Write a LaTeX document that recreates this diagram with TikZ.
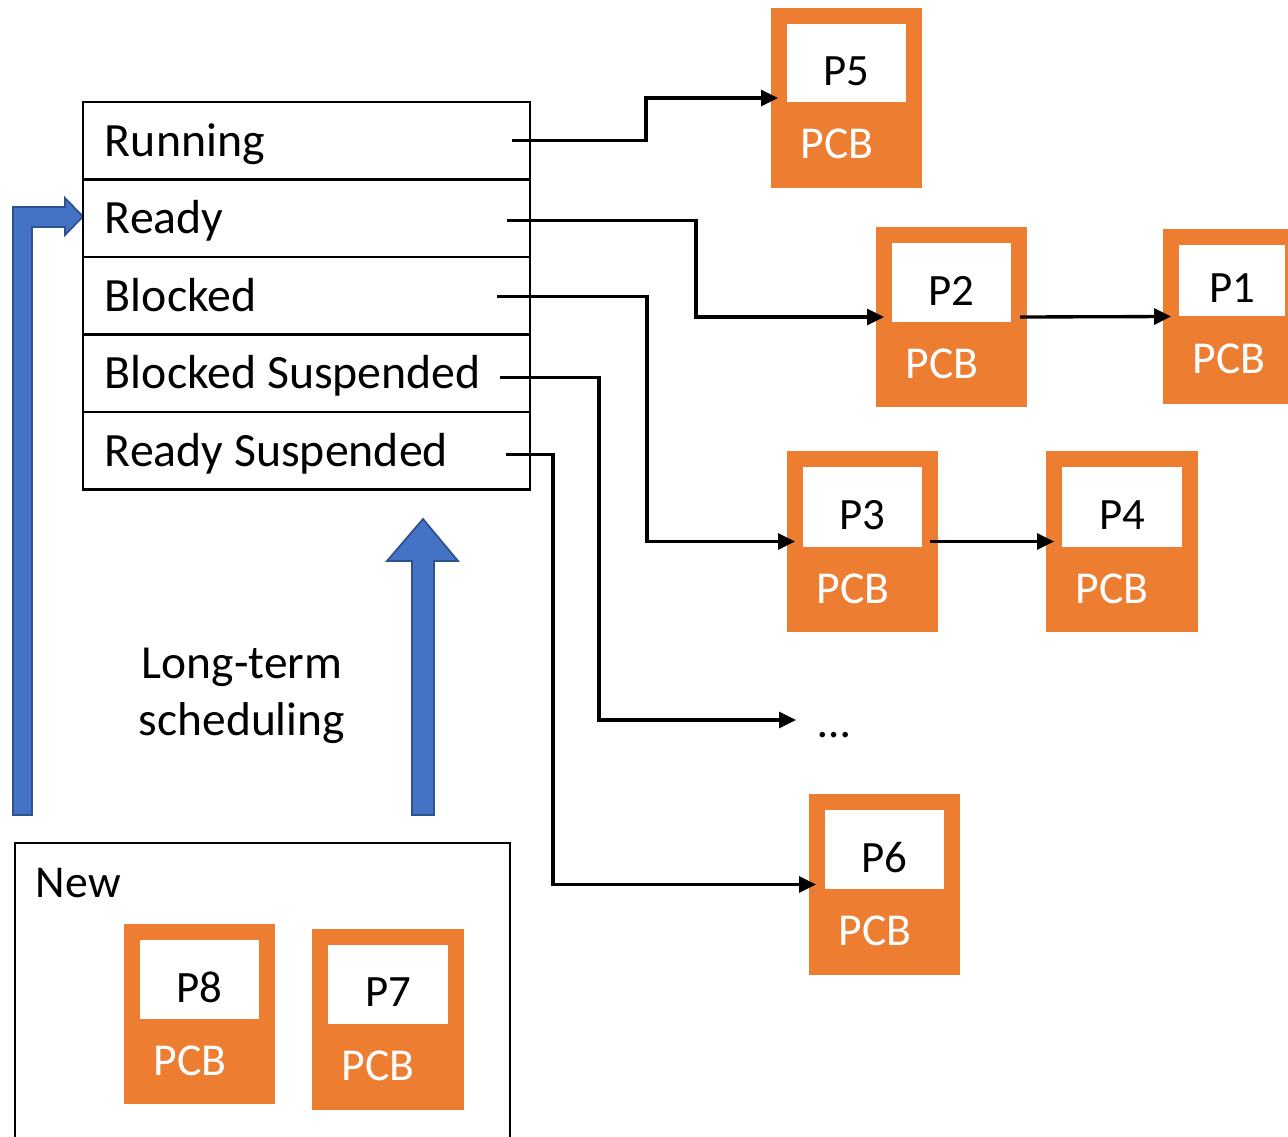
\documentclass[tikz,border=0pt]{standalone}
\usepackage{fontspec}
\setmainfont{Carlito}
\usetikzlibrary{arrows.meta}
\definecolor{pcborange}{HTML}{ED7D31}
\definecolor{schedblue}{HTML}{4472C4}
\definecolor{schededge}{HTML}{2F528F}

\begin{document}
\begin{tikzpicture}[x=0.02cm,y=-0.02cm,line width=1.1pt,>={Triangle[length=9.6pt,width=9pt]},
  staterow/.style={draw,line width=1.2pt,inner sep=0pt,minimum width=8.94cm,minimum height=1.55cm,anchor=north west},
  statelbl/.style={inner sep=0pt,anchor=base west,font=\fontsize{27.2}{30}\selectfont},
  pcb/.style={fill=pcborange,inner sep=0pt,outer sep=0pt,anchor=north west},
  pid/.style={fill=white,inner sep=0pt,outer sep=0pt,anchor=north west},
  pidtxt/.style={inner sep=0pt,font=\fontsize{25.5}{28}\selectfont},
  pcbtxt/.style={text=white,inner sep=0pt,font=\fontsize{26}{28}\selectfont},
  link/.style={->,line width=1.9pt},
  bigarrow/.style={fill=schedblue,draw=schededge,line width=1pt,line join=miter}]
  \useasboundingbox (0,0) rectangle (1288,1136);

  % flechas azules (planificacion a largo plazo)
  \draw[bigarrow] (13,815) -- (13,207) -- (65,207) -- (65,198) -- (83,216.5) -- (65,235) -- (65,227) -- (32,227) -- (32,815) -- cycle;
  \draw[bigarrow] (412,815) -- (412,561) -- (387,561) -- (423,519) -- (458,561) -- (434,561) -- (434,815) -- cycle;
  \node[align=center,font=\fontsize{27}{32.3}\selectfont] (lts) at (242,696) {Long-term\\scheduling};

  % tabla de estados
  \foreach \t [count=\i] in {Running,Ready,Blocked,Blocked Suspended,Ready Suspended}{
    \node[staterow] (s\i) at (82,{101+77.5*(\i-1)}) {};
    \node[statelbl] (s\i-lbl) at ([shift={(22,15.5)}]s\i.west) {\t};
  }

  % bloques PCB: nombre/x/y/ancho/alto/alto interior
  \foreach \n/\x/\y/\w/\h/\ih in {P5/771/8/151/180/78,P2/876/227/151/180/79,P1/1163/229/138/175/71,P3/787/451/151/181/80,P4/1046/451/152/181/80,P6/809/794/151/181/79,P8/124/924/151/180/79,P7/312/929/152/181/79}{
    \node[pcb,minimum width=\w*0.02cm,minimum height=\h*0.02cm] (\n) at (\x,\y) {};
    \node[pid,minimum width=(\w-32)*0.02cm,minimum height=\ih*0.02cm] (\n-id) at ([shift={(16,16)}]\n.north west) {};
    \node[pidtxt] (\n-lbl) at ([shift={(0,8)}]\n-id.center) {\n};
    \node[pcbtxt] (\n-pcb) at ([shift={(66,{\ih+15+(\h-\ih-16)/2})}]\n.north west) {PCB};
  }

  % cola de nuevos
  \node[draw,line width=1.3pt,inner sep=0pt,minimum width=9.9cm,minimum height=6.8cm,anchor=north west] (newq) at (14,842) {};
  \node[inner sep=0pt,anchor=base west,font=\fontsize{26}{28}\selectfont] (newlbl) at (35,897) {New};

  \node[inner sep=0pt,anchor=base,font=\fontsize{26}{28}\selectfont] (more) at (834,737) {\ldots};
  \coordinate (moreend) at (796,720);

  % enlaces de las colas
  \draw[link] ([shift={(-19,0)}]s1.east) -- ++(134,0) |- ([shift={(7,0)}]P5.west);
  \draw[link] ([shift={(-24,2)}]s2.east) -- ++(189,0) |- ([shift={(8,0)}]P2.west);
  \draw[link] ([shift={(-34,1)}]s3.east) -- ++(150,0) |- ([shift={(8,0)}]P3.west);
  \draw[link] ([shift={(-31,4)}]s4.east) -- ++(99,0) |- (moreend);
  \draw[link] ([shift={(-25,4)}]s5.east) -- ++(47,0) |- ([shift={(7,0)}]P6.west);
  \draw[link] ([shift={(-7,0)}]P2.east) -- ([shift={(8,0)}]P1.west);
  \draw[link] ([shift={(-8,0)}]P3.east) -- ([shift={(8,0)}]P4.west);
\end{tikzpicture}
\end{document}
